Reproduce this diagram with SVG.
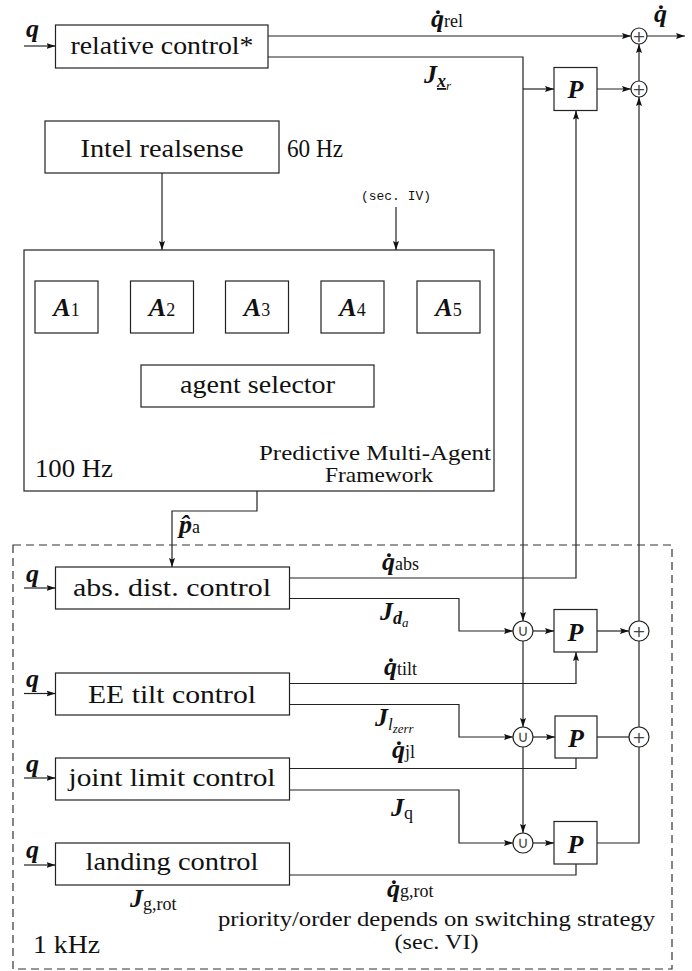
<svg xmlns="http://www.w3.org/2000/svg" width="692" height="971" viewBox="0 0 692 971">
<defs>
<marker id="ah" markerUnits="userSpaceOnUse" markerWidth="9" markerHeight="7" refX="9" refY="3.5" orient="auto">
<path d="M0,0.5 L9,3.5 L0,6.5 L1.5,3.5 z" fill="#111"/>
</marker>
<style>
.b{fill:#fff;stroke:#222;stroke-width:1.2}
.c{fill:none;stroke:#222;stroke-width:1.2}
.a{marker-end:url(#ah)}
.t{font-family:"Liberation Serif","DejaVu Serif",serif;font-size:26px;fill:#111}
.s{font-family:"Liberation Serif","DejaVu Serif",serif;font-size:21px;fill:#111}
.m{font-family:"Liberation Serif","DejaVu Serif",serif;font-size:26px;font-weight:bold;font-style:italic;fill:#111}
.sub{font-size:18px;font-weight:normal;font-style:normal}
.subi{font-size:17px;font-weight:normal;font-style:italic}
.subb{font-size:18px;font-weight:bold;font-style:italic}
.ss{font-size:13px;font-weight:normal;font-style:italic}
.op{font-family:"DejaVu Sans",sans-serif;font-size:16px;fill:#444;text-anchor:middle}
.tt{font-family:"Liberation Mono","DejaVu Sans Mono",monospace;font-size:12px;fill:#111}
</style>
</defs>
<rect width="692" height="971" fill="#fff"/>

<g id="connectors">
<path class="c a" d="M24,46 H55.5"/>
<path class="c a" d="M24,588 H55.5"/>
<path class="c a" d="M24,693.5 H55.5"/>
<path class="c a" d="M24,778 H55.5"/>
<path class="c a" d="M24,865 H55.5"/>
<path class="c a" d="M268,36 H631"/>
<path class="c a" d="M647,36 H685"/>
<path class="c a" d="M268,57 H523 V621"/>
<path class="c a" d="M523,89 H554"/>
<path class="c a" d="M597,89 H631"/>
<path class="c a" d="M639,81 V44"/>
<path class="c a" d="M289.5,578 H576 V110.5"/>
<path class="c a" d="M289.5,598.5 H459 V631 H513"/>
<path class="c a" d="M533,631 H554"/>
<path class="c a" d="M597,631 H629"/>
<path class="c a" d="M639,621 V97"/>
<path class="c a" d="M289.5,683.5 H576 V652"/>
<path class="c a" d="M289.5,704.5 H459 V737 H513"/>
<path class="c a" d="M523,641 V727"/>
<path class="c a" d="M533,737 H555"/>
<path class="c" d="M597,737 H629"/>
<path class="c" d="M639,727 V641"/>
<path class="c" d="M289.5,768.5 H576 V758"/>
<path class="c a" d="M289.5,790 H459 V843 H513"/>
<path class="c a" d="M523,747 V833"/>
<path class="c a" d="M533,843 H554"/>
<path class="c" d="M597,843 H639 V747"/>
<path class="c" d="M289.5,875 H576 V864"/>
<path class="c a" d="M162,173 V250"/>
<path class="c a" d="M396,207 V250"/>
<path class="c" d="M66.5,333 V387 H141"/>
<path class="c" d="M162,333 V365"/>
<path class="c" d="M257,333 V365"/>
<path class="c" d="M352.5,333 V365"/>
<path class="c" d="M448.5,333 V387 H374"/>
<path class="c a" d="M257,407 V511 H172 V567"/>
</g>

<g id="region-1khz">
<rect x="13" y="545" width="659" height="424" fill="none" stroke="#333" stroke-width="1.2" stroke-dasharray="8,5"/>
<text class="t" x="33" y="953" font-size="25" textLength="67" lengthAdjust="spacingAndGlyphs">1 kHz</text>
<text class="s" x="436.5" y="926" font-size="20" text-anchor="middle" textLength="437" lengthAdjust="spacingAndGlyphs">priority/order depends on switching strategy</text>
<text class="s" x="436.5" y="949" font-size="20" text-anchor="middle" textLength="84" lengthAdjust="spacingAndGlyphs">(sec. VI)</text>
</g>

<g id="relative-control">
<rect class="b" x="55.5" y="25" width="212.5" height="43"/>
<text class="t" x="162" y="54" text-anchor="middle" textLength="183" lengthAdjust="spacingAndGlyphs">relative control*</text>
</g>

<g id="intel-realsense">
<rect class="b" x="45" y="121" width="234" height="52"/>
<text class="t" x="162" y="157" text-anchor="middle" textLength="163" lengthAdjust="spacingAndGlyphs">Intel realsense</text>
<text class="t" x="287" y="157" font-size="25" textLength="56" lengthAdjust="spacingAndGlyphs">60 Hz</text>
</g>

<g id="sec-iv">
<text class="tt" x="396" y="200" text-anchor="middle" textLength="70" lengthAdjust="spacingAndGlyphs">(sec. IV)</text>
</g>

<g id="framework">
<rect class="b" x="24" y="250" width="470" height="241" fill="none"/>
<text class="t" x="35" y="477" font-size="25" textLength="78" lengthAdjust="spacingAndGlyphs">100 Hz</text>
<text class="s" x="375" y="460" text-anchor="middle" textLength="232" lengthAdjust="spacingAndGlyphs">Predictive Multi-Agent</text>
<text class="s" x="379" y="482" text-anchor="middle" textLength="108" lengthAdjust="spacingAndGlyphs">Framework</text>
</g>

<g id="A1"><rect class="b" x="35" y="281" width="63" height="52"/><text class="m" x="66.5" y="316" text-anchor="middle">A<tspan class="sub">1</tspan></text></g>
<g id="A2"><rect class="b" x="130.5" y="281" width="63" height="52"/><text class="m" x="162" y="316" text-anchor="middle">A<tspan class="sub">2</tspan></text></g>
<g id="A3"><rect class="b" x="225.5" y="281" width="63" height="52"/><text class="m" x="257" y="316" text-anchor="middle">A<tspan class="sub">3</tspan></text></g>
<g id="A4"><rect class="b" x="321" y="281" width="63" height="52"/><text class="m" x="352.5" y="316" text-anchor="middle">A<tspan class="sub">4</tspan></text></g>
<g id="A5"><rect class="b" x="417" y="281" width="63" height="52"/><text class="m" x="448.5" y="316" text-anchor="middle">A<tspan class="sub">5</tspan></text></g>

<g id="agent-selector">
<rect class="b" x="141" y="365" width="233" height="42"/>
<text class="t" x="257.5" y="393" text-anchor="middle" textLength="155" lengthAdjust="spacingAndGlyphs">agent selector</text>
</g>

<g id="abs-dist-control">
<rect class="b" x="55.5" y="567" width="234" height="42"/>
<text class="t" x="172" y="596" text-anchor="middle" textLength="198" lengthAdjust="spacingAndGlyphs">abs. dist. control</text>
</g>
<g id="ee-tilt-control">
<rect class="b" x="55.5" y="673" width="234" height="42"/>
<text class="t" x="172" y="703" text-anchor="middle" textLength="168" lengthAdjust="spacingAndGlyphs">EE tilt control</text>
</g>
<g id="joint-limit-control">
<rect class="b" x="55.5" y="758" width="234" height="42"/>
<text class="t" x="172" y="786" text-anchor="middle" textLength="207" lengthAdjust="spacingAndGlyphs">joint limit control</text>
</g>
<g id="landing-control">
<rect class="b" x="55.5" y="843" width="234" height="42"/>
<text class="t" x="172" y="870" text-anchor="middle" textLength="173" lengthAdjust="spacingAndGlyphs">landing control</text>
</g>

<g id="P-top"><rect class="b" x="554" y="67.5" width="43" height="43"/><text class="m" x="575.5" y="98" text-anchor="middle" font-size="29">P</text></g>
<g id="P-1"><rect class="b" x="554" y="609.5" width="43" height="42.5"/><text class="m" x="575.5" y="641" text-anchor="middle" font-size="29">P</text></g>
<g id="P-2"><rect class="b" x="555" y="716" width="42" height="42" stroke-width="2.2"/><text class="m" x="576" y="747" text-anchor="middle" font-size="29">P</text></g>
<g id="P-3"><rect class="b" x="554" y="821.5" width="43" height="42.5"/><text class="m" x="575.5" y="853" text-anchor="middle" font-size="29">P</text></g>

<g id="sum-out"><circle class="b" cx="639" cy="36" r="8"/><text class="op" x="639" y="41.5" font-size="14">+</text></g>
<g id="sum-top"><circle class="b" cx="639" cy="89" r="8"/><text class="op" x="639" y="94.5" font-size="14">+</text></g>
<g id="sum-1"><circle class="b" cx="639" cy="631" r="10"/><text class="op" x="639" y="636.5">+</text></g>
<g id="sum-2"><circle class="b" cx="639" cy="737" r="10"/><text class="op" x="639" y="742.5">+</text></g>
<g id="union-1"><circle class="b" cx="523" cy="631" r="10"/><text class="op" x="523" y="636">∪</text></g>
<g id="union-2"><circle class="b" cx="523" cy="737" r="10"/><text class="op" x="523" y="742">∪</text></g>
<g id="union-3"><circle class="b" cx="523" cy="843" r="10"/><text class="op" x="523" y="848">∪</text></g>

<g id="labels">
<text class="m" x="26" y="37">q</text>
<text class="m" x="26" y="582">q</text>
<text class="m" x="26" y="687">q</text>
<text class="m" x="26" y="772">q</text>
<text class="m" x="26" y="858">q</text>
<text class="m" x="431" y="27">q̇<tspan class="sub">rel</tspan></text>
<text class="m" x="654" y="22">q̇</text>
<text class="m" x="424" y="83">J<tspan class="subb" dy="4" text-decoration="underline">x</tspan><tspan class="ss" dy="3">r</tspan></text>
<text class="m" x="179" y="533">p̂<tspan class="sub">a</tspan></text>
<text class="m" x="382" y="570">q̇<tspan class="sub">abs</tspan></text>
<text class="m" x="380" y="620">J<tspan class="subb" dy="4">d</tspan><tspan class="ss" dy="3">a</tspan></text>
<text class="m" x="384" y="675">q̇<tspan class="sub">tilt</tspan></text>
<text class="m" x="375" y="726">J<tspan class="subi" dy="4">l</tspan><tspan class="ss" dy="3">zerr</tspan></text>
<text class="m" x="392" y="758">q̇<tspan class="sub">jl</tspan></text>
<text class="m" x="391" y="816">J<tspan class="sub" dy="3">q</tspan></text>
<text class="m" x="387" y="897">q̇<tspan class="sub">g,rot</tspan></text>
<text class="m" x="130" y="907">J<tspan class="sub" dy="3">g,rot</tspan></text>
</g>
</svg>
